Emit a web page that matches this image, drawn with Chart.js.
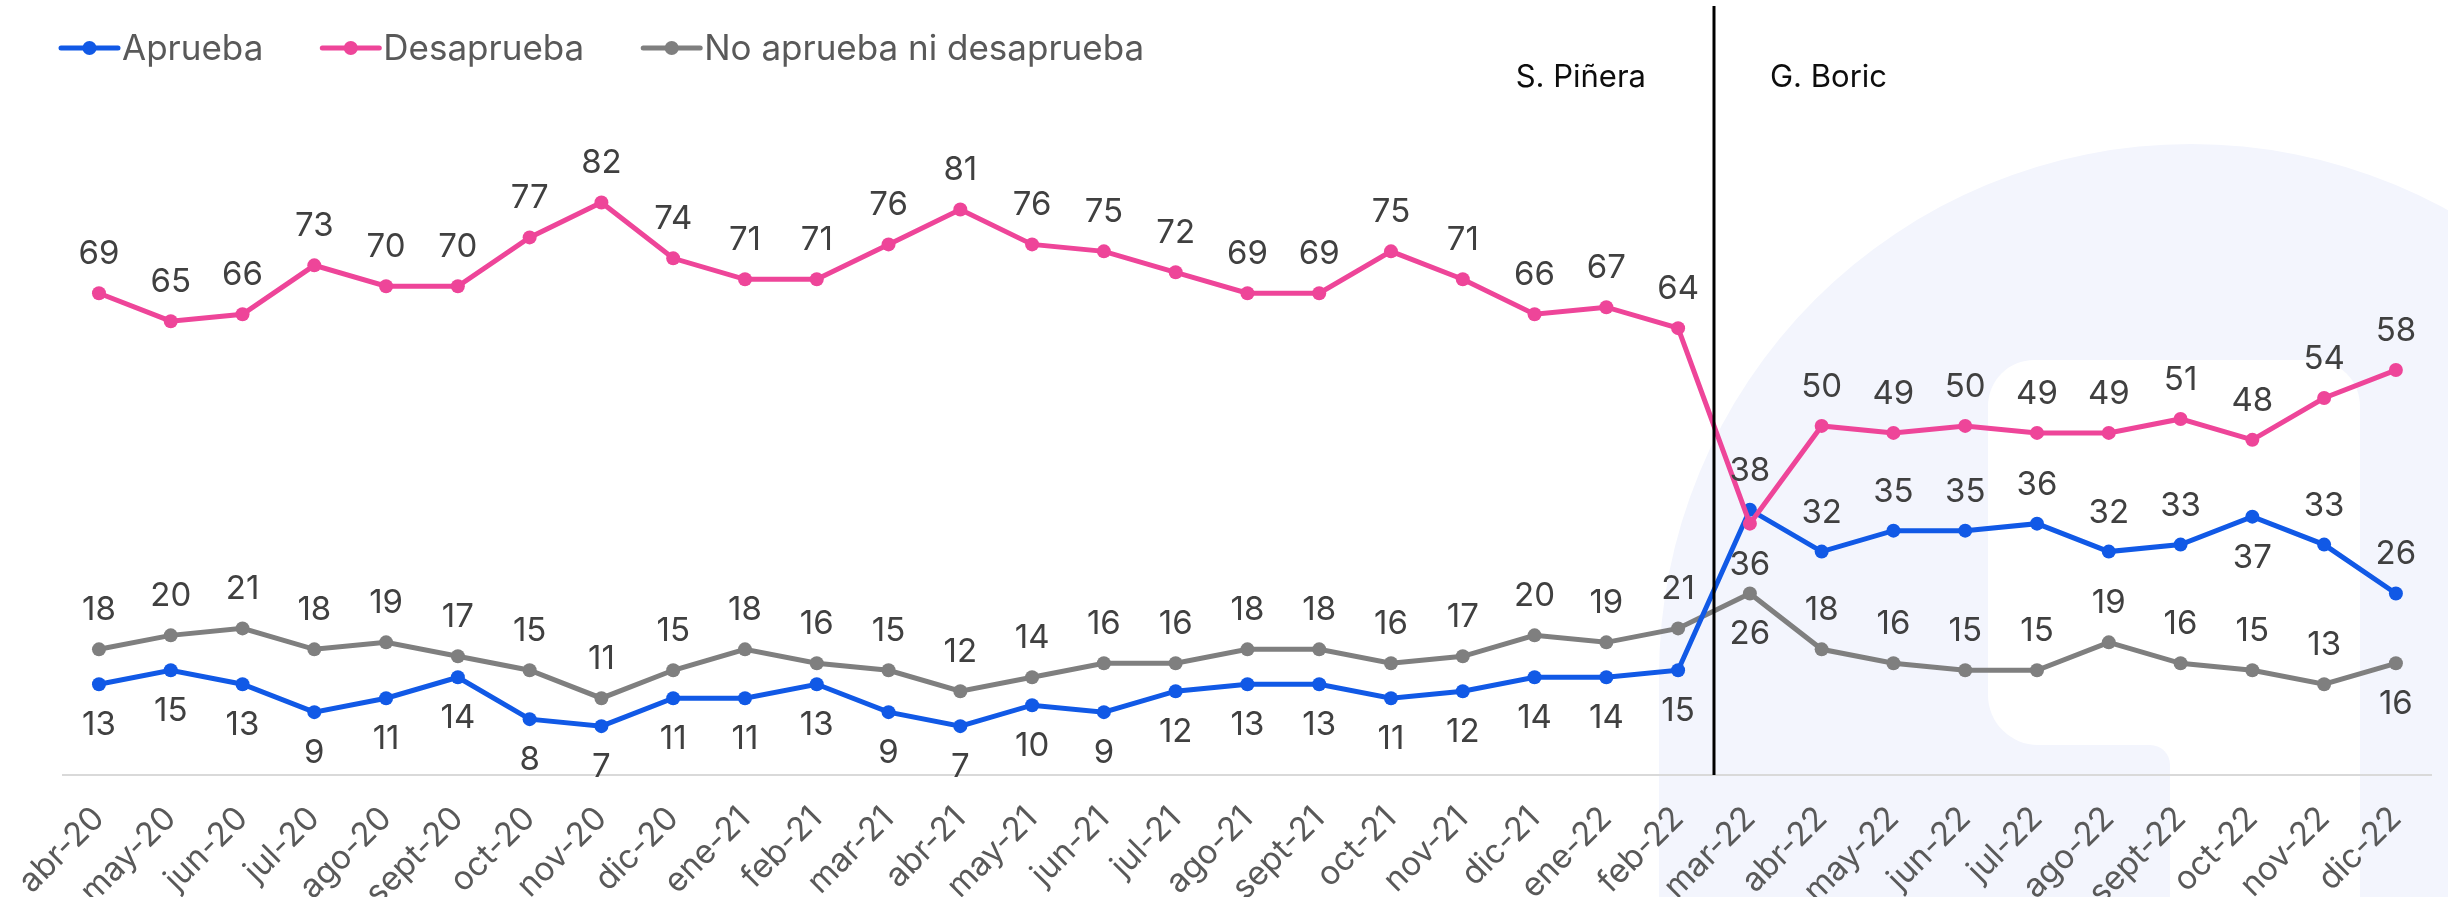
<!DOCTYPE html>
<html>
<head>
<meta charset="utf-8">
<script src="https://cdn.jsdelivr.net/npm/chart.js@4.4.0/dist/chart.umd.min.js"></script>
<style>
  html, body { margin: 0; padding: 0; background: #ffffff; }
  #wrap { position: relative; width: 2448px; height: 897px; }
</style>
</head>
<body>
<div id="wrap"><canvas id="c" width="2448" height="897"></canvas></div>
<script>
// ---------- DATA ----------
const categories = ['abr-20','may-20','jun-20','jul-20','ago-20','sept-20','oct-20','nov-20','dic-20',
  'ene-21','feb-21','mar-21','abr-21','may-21','jun-21','jul-21','ago-21','sept-21','oct-21','nov-21','dic-21',
  'ene-22','feb-22','mar-22','abr-22','may-22','jun-22','jul-22','ago-22','sept-22','oct-22','nov-22','dic-22'];
const aprueba    = [13,15,13,9,11,14,8,7,11,11,13,9,7,10,9,12,13,13,11,12,14,14,15,38,32,35,35,36,32,33,37,33,26];
const desaprueba = [69,65,66,73,70,70,77,82,74,71,71,76,81,76,75,72,69,69,75,71,66,67,64,36,50,49,50,49,49,51,48,54,58];
const ninguno    = [18,20,21,18,19,17,15,11,15,18,16,15,12,14,16,16,18,18,16,17,20,19,21,26,18,16,15,15,19,16,15,13,16];
const seriesNames = ['Aprueba','Desaprueba','No aprueba ni desaprueba'];
const periodNames = ['S. Piñera','G. Boric'];
const changeIndex = 23; // first month of the second period (mar-22)

// which value labels sit below their point (by category index)
const aprBelow = [0,1,2,3,4,5,6,7,8,9,10,11,12,13,14,15,16,17,18,19,20,21,22,30];
const desBelow = [23];
const ninBelow = [23,32];

const COLORS = { apr: '#1159e6', des: '#ee4599', nin: '#7f7f7f' };
const FONT = 'Inter, "Noto Sans", sans-serif';

// ---------- PLUGINS ----------
const background = {
  id: 'background',
  beforeDraw(chart) {
    const ctx = chart.ctx, W = chart.width, H = chart.height;
    ctx.save();
    ctx.fillStyle = '#ffffff';
    ctx.fillRect(0, 0, W, H);
    // faint watermark logo
    const cx = 2191, cy = 676, cr = 532;
    ctx.fillStyle = '#f3f5fd';
    ctx.beginPath();
    ctx.arc(cx, cy, cr, 0, Math.PI * 2);
    ctx.fill();
    ctx.fillRect(cx - cr, cy, W - (cx - cr), H - cy + 10);
    // white inner shape
    const L = 1988, T = 360, R = 2360, M = 745, N = 2170, r = 46, r2 = 20, r3 = 50;
    ctx.fillStyle = '#ffffff';
    ctx.beginPath();
    ctx.moveTo(L + r, T);
    ctx.lineTo(R - r, T);
    ctx.arcTo(R, T, R, T + r, r);
    ctx.lineTo(R, H + 10);
    ctx.lineTo(N, H + 10);
    ctx.lineTo(N, M + r2);
    ctx.arcTo(N, M, N - r2, M, r2);
    ctx.lineTo(L + r3, M);
    ctx.arcTo(L, M, L, M - r3, r3);
    ctx.lineTo(L, T + r);
    ctx.arcTo(L, T, L + r, T, r);
    ctx.closePath();
    ctx.fill();
    ctx.restore();
  }
};

const overlay = {
  id: 'overlay',
  afterDatasetsDraw(chart) {
    const ctx = chart.ctx;
    const xs = chart.scales.x;
    const area = chart.chartArea;
    ctx.save();

    // period divider
    const lx = (xs.getPixelForValue(changeIndex - 1) + xs.getPixelForValue(changeIndex)) / 2;
    ctx.strokeStyle = '#000000';
    ctx.lineWidth = 3;
    ctx.beginPath();
    ctx.moveTo(lx, 6);
    ctx.lineTo(lx, area.bottom);
    ctx.stroke();

    ctx.fillStyle = '#0d0d0d';
    ctx.font = '31px ' + FONT;
    ctx.textBaseline = 'alphabetic';
    ctx.textAlign = 'right';
    ctx.fillText(periodNames[0], lx - 68, 87);
    ctx.textAlign = 'left';
    ctx.fillText(periodNames[1], lx + 56, 87);

    // value labels
    const belowSets = [aprBelow, desBelow, ninBelow];
    ctx.font = '33px ' + FONT;
    ctx.fillStyle = '#404040';
    ctx.textAlign = 'center';
    chart.data.datasets.forEach((ds, di) => {
      const meta = chart.getDatasetMeta(di);
      meta.data.forEach((pt, i) => {
        const below = belowSets[di].includes(i);
        const y = below ? pt.y + 51 : pt.y - 29;
        ctx.fillText(String(ds.data[i]), pt.x, y);
      });
    });

    // legend
    ctx.font = '35px ' + FONT;
    ctx.textAlign = 'left';
    ctx.textBaseline = 'middle';
    let x = 61;
    const y = 48;
    chart.data.datasets.forEach((ds) => {
      ctx.strokeStyle = ds.borderColor;
      ctx.lineWidth = 5;
      ctx.lineCap = 'round';
      ctx.beginPath();
      ctx.moveTo(x, y);
      ctx.lineTo(x + 57, y);
      ctx.stroke();
      ctx.fillStyle = ds.borderColor;
      ctx.beginPath();
      ctx.arc(x + 28.5, y, 7, 0, Math.PI * 2);
      ctx.fill();
      ctx.fillStyle = '#595959';
      ctx.fillText(ds.label, x + 61, y + 1);
      x += 61 + ctx.measureText(ds.label).width + 59;
    });
    ctx.restore();
  }
};

// ---------- CHART ----------
const mk = (label, data, color, order) => ({
  label, data,
  borderColor: color, backgroundColor: color,
  pointBackgroundColor: color, pointBorderColor: color,
  borderWidth: 5, pointRadius: 7, pointBorderWidth: 0, pointHoverRadius: 7,
  tension: 0, fill: false, order
});

new Chart(document.getElementById('c'), {
  type: 'line',
  data: {
    labels: categories,
    datasets: [
      mk(seriesNames[0], aprueba, COLORS.apr, 1),
      mk(seriesNames[1], desaprueba, COLORS.des, 0),
      mk(seriesNames[2], ninguno, COLORS.nin, 2)
    ]
  },
  options: {
    responsive: false,
    devicePixelRatio: 1,
    animation: false,
    layout: { padding: { left: 56, right: 14, top: 7, bottom: 0 } },
    plugins: { legend: { display: false }, tooltip: { enabled: false } },
    scales: {
      x: {
        type: 'category',
        offset: true,
        grid: { display: false, drawTicks: false },
        border: { display: true, color: '#d9d9d9', width: 2 },
        ticks: {
          color: '#595959',
          font: { family: FONT, size: 33 },
          minRotation: 45, maxRotation: 45,
          autoSkip: false,
          padding: 24
        },
        afterFit(scale) { scale.height = 122; }
      },
      y: { display: false, min: 0, max: 110 }
    }
  },
  plugins: [background, overlay]
});
</script>
</body>
</html>
